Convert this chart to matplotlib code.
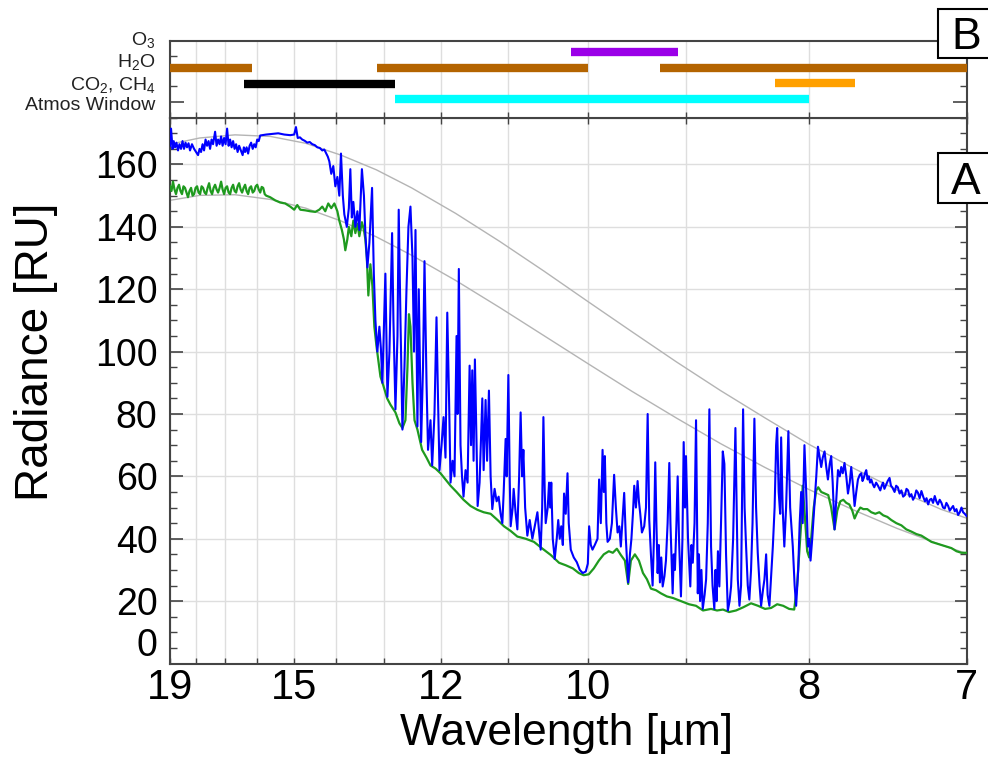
import matplotlib
matplotlib.use('Agg')
import matplotlib.pyplot as plt
import matplotlib.transforms as mtransforms
from matplotlib.patches import Rectangle

plt.rcParams['font.family'] = ['Liberation Sans', 'DejaVu Sans']
plt.rcParams['mathtext.fontset'] = 'custom'
plt.rcParams['mathtext.rm'] = 'Liberation Sans'
plt.rcParams['mathtext.it'] = 'Liberation Sans:italic'
plt.rcParams['mathtext.bf'] = 'Liberation Sans:bold'

# ---------------- data (x in wavenumber cm^-1, radiance in RU) ----------------
tick_wavelengths = [19, 18, 17, 16, 15, 14, 13, 12, 11, 10, 9, 8, 7]
labelled_wavelengths = [19, 15, 12, 10, 8, 7]
y_ticks = [0, 20, 40, 60, 80, 100, 120, 140, 160]

blackbody_nu = [526.3, 560, 600, 640, 680, 720, 760, 800, 850, 900, 950, 1000,
                1050, 1100, 1150, 1200, 1250, 1300, 1350, 1400, 1428.6]
blackbody_warm = [166.5, 168.5, 169.5, 169.0, 166.8, 163.0, 158.3, 152.5, 144.3, 135.3,
                  125.8, 116.0, 106.3, 96.7, 87.5, 78.8, 70.3, 62.7, 55.6, 49.4, 46.6]
blackbody_cool = [148.5, 150.1, 150.3, 148.8, 146.0, 141.9, 136.8, 130.9, 122.8, 114.1,
                  105.1, 96.1, 87.2, 78.7, 70.5, 62.9, 55.8, 49.3, 43.3, 38.0, 35.3]

blue_spectrum = [
    (526.3, 166), (527.5, 171.5), (529.2, 165), (530.5, 167.5), (532.0, 165.5), (533.6, 167),
    (535.4, 164.5), (537.0, 166.5), (538.8, 165), (540.5, 167.5), (542.2, 165), (543.9, 167),
    (545.6, 165.5), (547.3, 166.8), (549.0, 164.5), (551.2, 166.5), (553.6, 165), (555.8, 164),
    (558.1, 163), (559.8, 165), (561.5, 164), (563.2, 166.5), (564.9, 164.5), (566.6, 168),
    (568.3, 166), (570.0, 167.5), (571.7, 165), (573.4, 168), (575.1, 166.5), (577.4, 170.5),
    (579.1, 166), (580.8, 168), (582.5, 166.5), (584.2, 169), (585.9, 166), (587.6, 168.5),
    (589.3, 166.5), (591.0, 171.5), (592.7, 166), (594.4, 168), (596.1, 165.5), (597.8, 167.5),
    (599.5, 165), (601.2, 166.5), (602.9, 164), (604.6, 166), (606.6, 164.5), (608.6, 163),
    (610.0, 165.5), (611.4, 164), (613.1, 165.5), (614.8, 163.5), (616.5, 166), (618.2, 167),
    (620.0, 165), (621.7, 166.5), (623.4, 165.5), (625.1, 168), (626.8, 167.5), (628.5, 169.3),
    (635.3, 169.6), (642.1, 169.8), (648.9, 170), (655.7, 169.6),
    (662.5, 169.4), (667.0, 169.6), (669.0, 172), (671.0, 168.5), (673.5, 168.7), (676.1, 168),
    (678.9, 167.6), (681.8, 167), (684.6, 167.2), (687.5, 166.5), (690.4, 166.2), (693.2, 165.5),
    (696.0, 165.3), (698.8, 164.5), (701.1, 164.8), (703.4, 163.5), (705.1, 162.5), (706.8, 161),
    (709.0, 157), (711.3, 159.5), (713.6, 153), (715.9, 156), (718.1, 150), (720.0, 163.5),
    (722.1, 150), (723.8, 144), (726.6, 140), (728.9, 146), (730.6, 158.5), (732.3, 143),
    (734.0, 148), (736.3, 140), (738.6, 145), (740.8, 139), (743.7, 158.5), (746.0, 150),
    (747.6, 138), (749.9, 127), (752.2, 135), (755.2, 152.5), (757.2, 125), (759.0, 110),
    (761.2, 100), (763.5, 108), (765.2, 101), (766.9, 90), (770.3, 125), (772.6, 85.5),
    (774.9, 100), (777.9, 138), (779.4, 110), (781.7, 81.5), (784.0, 105), (785.4, 145.5),
    (787.4, 110), (789.6, 75), (791.9, 95), (794.2, 120), (796.4, 140), (798.7, 146.5),
    (801.0, 130), (802.7, 100), (804.4, 139), (806.6, 76), (808.1, 120), (810.8, 71),
    (812.9, 95), (814.6, 129), (816.9, 90), (818.6, 68.5), (821.4, 78), (823.3, 63.5),
    (825.9, 80), (828.2, 111), (829.9, 85), (831.6, 62), (833.9, 70), (836.2, 79),
    (838.4, 66), (840.4, 112.5), (842.4, 85), (844.1, 58), (846.4, 65), (848.6, 60),
    (850.9, 105), (852.0, 80), (853.5, 126.5), (855.4, 70), (857.1, 60), (858.8, 53.5),
    (861.1, 62), (863.4, 58), (865.7, 95.5), (867.3, 70), (868.7, 94), (870.2, 65),
    (871.7, 97.5), (873.6, 70), (874.8, 50.5), (877.0, 58), (880.1, 85), (881.6, 62),
    (883.8, 84.5), (885.5, 65), (887.6, 87.5), (889.5, 60), (891.4, 49.5), (894.0, 56),
    (896.3, 52), (898.6, 53.5), (900.8, 48), (902.8, 45), (904.3, 55), (906.5, 72),
    (907.7, 60), (909.6, 92.5), (911.1, 60), (912.2, 44), (914.5, 50), (915.6, 56),
    (917.9, 48), (919.8, 43), (921.8, 60), (923.5, 80.5), (925.2, 60), (926.6, 68.5),
    (928.6, 50), (931.1, 41), (933.8, 46), (936.8, 40), (939.5, 44), (942.5, 48.5),
    (944.5, 42), (946.2, 36.5), (947.9, 50), (949.3, 79), (950.8, 55), (951.9, 45),
    (954.2, 50), (955.7, 58), (957.0, 50), (958.2, 58), (959.9, 40), (962.1, 33.5),
    (964.4, 40), (966.1, 46), (967.8, 40), (969.5, 44), (971.3, 38), (972.7, 54.5),
    (974.6, 48), (976.6, 61), (978.0, 45), (980.3, 36.5), (983.7, 34), (987.1, 32.5),
    (990.5, 30), (993.9, 29), (997.3, 29.5), (999.6, 32), (1001.1, 44), (1003.0, 38),
    (1004.9, 36.5), (1007.5, 38), (1010.6, 40), (1012.4, 59), (1014.3, 45), (1016.3, 68.5),
    (1017.7, 55), (1018.9, 66.5), (1020.6, 45), (1022.0, 39), (1024.6, 40), (1026.9, 45),
    (1029.4, 60.5), (1031.4, 50), (1033.3, 42), (1035.3, 44), (1037.0, 37.5), (1038.7, 45),
    (1040.8, 54.7), (1042.7, 40), (1045.3, 26), (1047.3, 35), (1049.0, 40), (1050.7, 48),
    (1052.2, 57), (1054.1, 50), (1056.0, 58.5), (1057.5, 52), (1059.0, 48), (1060.9, 42),
    (1063.5, 44), (1065.5, 50), (1067.4, 80), (1069.2, 46), (1071.1, 35), (1073.0, 25),
    (1074.5, 40), (1076.0, 64.5), (1077.3, 45), (1078.7, 29), (1080.0, 38), (1081.3, 26),
    (1082.8, 34), (1084.4, 24.7), (1086.4, 28), (1088.1, 33), (1090.0, 45), (1091.9, 64.3),
    (1093.2, 45), (1095.7, 22.5), (1097.0, 35), (1098.3, 30), (1100.0, 45), (1101.4, 60),
    (1102.9, 40), (1105.1, 21.5), (1106.8, 40), (1108.2, 71), (1109.7, 50), (1110.8, 66.5),
    (1113.1, 40), (1115.7, 24.7), (1117.0, 38), (1118.5, 32.3), (1120.5, 45), (1122.2, 78),
    (1124.2, 22.5), (1125.5, 35), (1126.8, 20), (1128.3, 30), (1129.8, 17.5), (1131.9, 22),
    (1133.6, 27), (1135.5, 45), (1137.3, 81.5), (1139.2, 37.5), (1140.9, 25), (1142.9, 17.5),
    (1144.2, 30), (1145.5, 20), (1147.0, 36), (1148.6, 24.7), (1150.5, 45), (1152.5, 68),
    (1154.3, 64), (1156.2, 35), (1158.2, 17), (1160.2, 20), (1161.9, 24.7), (1164.2, 40),
    (1166.8, 75.5), (1168.2, 50), (1169.5, 27), (1171.4, 18.5), (1173.2, 25), (1175.5, 81.5),
    (1177.2, 50), (1178.9, 37.5), (1180.8, 25), (1182.6, 20.5), (1184.5, 30), (1186.2, 45),
    (1188.3, 78.5), (1190.2, 50), (1192.1, 35.5), (1194.2, 25), (1195.9, 18.5), (1198.2, 24),
    (1199.7, 27), (1201.6, 35), (1203.3, 22), (1205.3, 18.5), (1207.2, 28), (1209.2, 37.5),
    (1211.2, 50), (1212.9, 70), (1214.1, 75.5), (1215.8, 55), (1217.5, 48), (1218.6, 72.5),
    (1220.3, 50), (1222.2, 37.5), (1224.2, 50), (1226.8, 74.5), (1228.8, 50), (1231.8, 37.5),
    (1233.9, 25), (1235.6, 18.5), (1237.9, 30), (1239.6, 45), (1241.3, 55), (1243.0, 45),
    (1245.0, 70), (1247.0, 55), (1248.9, 37.5), (1250.4, 40), (1251.9, 33), (1253.8, 40),
    (1256.4, 51.5), (1258.4, 60), (1260.3, 69.5), (1262.3, 66), (1264.0, 63), (1265.7, 66),
    (1267.8, 68), (1269.7, 63), (1271.6, 59), (1273.6, 64), (1275.3, 66.5), (1277.0, 58),
    (1279.1, 43), (1281.0, 52), (1283.0, 62), (1285.0, 60), (1286.7, 63), (1288.4, 61),
    (1290.4, 64.3), (1292.4, 60), (1294.3, 54.5), (1296.3, 58), (1298.0, 63), (1299.7, 58),
    (1301.8, 50.5), (1303.7, 55), (1305.6, 59), (1307.7, 60.5), (1309.4, 61), (1310.8, 58.5),
    (1312.2, 59.5), (1313.6, 61), (1315.0, 62), (1316.5, 59), (1317.9, 60), (1319.3, 58),
    (1320.7, 59), (1322.4, 57.5), (1324.1, 56.5), (1326.2, 58), (1328.3, 57), (1330.9, 55.5),
    (1332.5, 57), (1334.0, 58), (1335.6, 56), (1337.1, 57), (1339.3, 58.5), (1341.4, 59.5),
    (1343.0, 57), (1344.5, 56.5), (1347.1, 55), (1348.9, 57), (1350.8, 56.5), (1352.8, 54.5),
    (1354.8, 55.5), (1356.8, 53.5), (1358.8, 54), (1360.6, 56), (1362.4, 55.5), (1364.2, 53.5),
    (1366.1, 54.3), (1368.0, 52.5), (1369.9, 53.5), (1371.7, 55.5), (1373.5, 54.8), (1375.5, 53),
    (1377.5, 55.3), (1379.5, 53.5), (1381.5, 52), (1383.3, 53), (1385.1, 51), (1387.0, 52.5),
    (1388.8, 52.8), (1390.7, 51.5), (1392.6, 53.7), (1394.4, 52), (1396.2, 51), (1398.2, 52.5),
    (1400.2, 51.5), (1402.0, 50), (1403.9, 49.7), (1405.8, 51.5), (1407.8, 50.5), (1409.6, 49),
    (1411.5, 49.8), (1413.4, 50.5), (1415.3, 48.8), (1417.2, 49.5), (1419.1, 47.6), (1421.0, 48.5),
    (1422.9, 50), (1424.7, 48.5), (1426.6, 48), (1428.6, 47.3),
]

green_spectrum = [
    (526.3, 153), (528.0, 151.5), (529.7, 154.5), (531.4, 152), (533.1, 150.5), (534.8, 152.5),
    (536.5, 153.5), (538.2, 151.5), (539.9, 150.5), (541.6, 153), (543.3, 152.5), (545.0, 151),
    (546.7, 149.5), (548.4, 151.5), (550.2, 152.5), (551.9, 150), (553.6, 150.5), (555.3, 152.5),
    (557.0, 153), (558.7, 151), (560.4, 150.5), (562.1, 153), (563.8, 152.5), (565.5, 151),
    (567.2, 150.5), (568.9, 152.5), (570.6, 154), (572.3, 151.5), (574.0, 150.5), (575.7, 152.5),
    (577.4, 153.5), (579.1, 152), (580.8, 151), (582.5, 152.5), (584.2, 154.5), (585.9, 152),
    (587.6, 150.5), (589.3, 152.5), (591.0, 153), (592.7, 151), (594.4, 150.5), (596.1, 152.5),
    (597.8, 153.5), (599.5, 151.5), (601.2, 151), (602.9, 153), (604.6, 154), (606.3, 152),
    (608.0, 151), (609.7, 152.5), (611.4, 153.5), (613.1, 151.5), (614.8, 150.5), (616.5, 152.5),
    (618.2, 153), (620.0, 151), (621.7, 151.5), (623.4, 153), (625.1, 153.5), (626.8, 152),
    (628.5, 151), (630.2, 152.8), (631.9, 152.5), (633.6, 150.5), (635.3, 150), (639.8, 149.5),
    (645.5, 148.5), (651.2, 147.8), (656.8, 147.5), (662.5, 146.5), (667.0, 145.5), (670.5, 147),
    (673.9, 145.5), (679.5, 145.3), (685.2, 145), (690.9, 144.8), (695.4, 145.5), (698.8, 146.5),
    (702.2, 145), (705.6, 147.5), (709.0, 146), (712.5, 147.5), (715.9, 145), (718.1, 142),
    (721.0, 139), (723.3, 136), (724.9, 132.5), (727.2, 136), (728.9, 140), (731.7, 137),
    (734.0, 142), (736.3, 138), (738.6, 141), (740.8, 137), (743.7, 141.5), (746.0, 139),
    (747.6, 136), (749.3, 130), (751.0, 118), (753.3, 128), (755.6, 121), (757.8, 108),
    (760.1, 102), (762.4, 97), (764.7, 92), (768.1, 89), (772.3, 85), (776.0, 83),
    (781.7, 80.5), (786.2, 77), (789.6, 75.5), (793.0, 78), (795.3, 95), (797.0, 112),
    (798.7, 108), (801.0, 90), (803.3, 78), (806.6, 75), (811.9, 68.5), (816.9, 66),
    (821.4, 63.5), (827.1, 62.5), (832.7, 61), (838.4, 59), (844.1, 57), (850.9, 55),
    (858.8, 52.5), (866.8, 50.5), (874.4, 49.3), (881.6, 48.5), (889.5, 48), (897.4, 46),
    (904.6, 44), (912.2, 42.5), (919.8, 40.7), (929.2, 40), (938.6, 39), (947.4, 37),
    (957.6, 34.8), (967.0, 32.3), (974.6, 31.5), (982.6, 30.5), (989.4, 29), (995.0, 28.3),
    (1000.7, 28.6), (1006.4, 30.5), (1012.1, 33), (1017.7, 35), (1023.4, 36), (1027.9, 35.5),
    (1032.5, 36.8), (1037.0, 34.8), (1041.6, 33), (1045.3, 25.5), (1048.4, 33), (1052.9, 35),
    (1057.5, 33), (1062.1, 29), (1066.6, 27), (1071.1, 24), (1076.8, 23.5), (1082.4, 22.5),
    (1089.2, 21.5), (1096.1, 21), (1105.1, 20), (1114.2, 19), (1122.2, 18.5), (1130.1, 17),
    (1139.2, 17.5), (1146.0, 17), (1152.8, 17.3), (1159.6, 16.5), (1167.5, 17), (1175.5, 18),
    (1184.5, 19.3), (1192.4, 18.5), (1200.4, 17.5), (1207.2, 17.8), (1214.1, 19), (1220.9, 18.5),
    (1227.7, 17.5), (1233.4, 17.3), (1236.7, 25), (1239.0, 35), (1241.3, 45), (1243.0, 57),
    (1245.3, 48), (1248.1, 36), (1250.4, 34), (1252.6, 40), (1255.5, 50), (1258.4, 55.5),
    (1260.6, 56.5), (1264.0, 55), (1268.0, 54.5), (1272.0, 54), (1275.3, 50), (1279.1, 43),
    (1282.2, 49), (1285.6, 52), (1289.0, 52.5), (1292.4, 51.5), (1295.8, 51), (1299.2, 49),
    (1301.8, 46.5), (1304.9, 48.5), (1308.3, 50), (1311.7, 49.5), (1316.2, 49.5), (1320.7, 48.5),
    (1325.3, 48), (1329.8, 48.5), (1334.3, 47.5), (1338.9, 47), (1343.4, 46), (1349.1, 45),
    (1354.8, 44.3), (1360.4, 43), (1366.1, 42.3), (1371.8, 41.5), (1377.5, 41), (1383.2, 40),
    (1388.8, 39), (1394.5, 38.5), (1400.2, 38), (1405.8, 37.5), (1411.5, 37), (1417.2, 36),
    (1422.9, 35.5), (1428.6, 35.5),
]

# absorber / window bands (panel B)
band_labels = ['O$_3$', 'H$_2$O', 'CO$_2$, CH$_4$', 'Atmos Window']
band_label_rows = [5.0, 3.6, 2.1, 0.76]
band_rows = [4.25, 3.22, 3.22, 3.22, 2.18, 2.22, 1.19]
band_start = [981, 526.3, 761, 1081, 610, 1212, 781]
band_end = [1102, 619, 1000, 1428.6, 781, 1302, 1250]
band_colors = ['#9b00e8', '#b46400', '#b46400', '#b46400', '#000000', '#ffa000', '#00ffff']

# ---------------- figure ----------------
W, H = 988, 757
fig = plt.figure(figsize=(W / 100, H / 100), dpi=100)


def fx(px):
    return px / W


def fy(py):
    return 1 - py / H


L, R = 170, 966.5
axA = fig.add_axes([fx(L), fy(663.5), (R - L) / W, (663.5 - 117.7) / H])
axB = fig.add_axes([fx(L), fy(117.7), (R - L) / W, (117.7 - 40.5) / H])

xmin, xmax = 1e4 / 19, 1e4 / 7
tick_pos = [1e4 / w for w in tick_wavelengths]
tick_lab = [str(w) if w in labelled_wavelengths else '' for w in tick_wavelengths]

spine_col = '#444444'
grid_col = '#dedede'

# ---- panel A ----
axA.plot(blackbody_nu, blackbody_warm, color='#b4b4b4', lw=1.0, zorder=2)
axA.plot(blackbody_nu, blackbody_cool, color='#b4b4b4', lw=1.0, zorder=2)
g_nu, g_r = zip(*green_spectrum)
b_nu, b_r = zip(*blue_spectrum)
axA.plot(g_nu, g_r, color='#1f9a1f', lw=1.6, zorder=3)
axA.plot(b_nu, b_r, color='#0000ff', lw=1.5, zorder=4)

axA.set_xlim(xmin, xmax)
axA.set_ylim(0, 175)
axA.set_xticks(tick_pos)
axA.set_xticklabels(tick_lab)
axA.set_yticks(y_ticks)
axA.set_yticks(list(range(0, 176, 5)), minor=True)
axA.grid(True, which='major', color=grid_col, lw=1.0)
axA.set_axisbelow(True)
axA.tick_params(axis='both', which='both', direction='in', top=True, right=True, color=spine_col)
axA.tick_params(axis='y', which='major', length=9, width=1.2, labelsize=27, pad=9)
axA.tick_params(axis='y', which='minor', length=5, width=1.0)
axA.tick_params(axis='x', which='major', length=4, width=1.0, labelsize=30, pad=3)
axA.yaxis.get_major_ticks()[0].label1.set_verticalalignment('bottom')
for sp in axA.spines.values():
    sp.set_color(spine_col)
    sp.set_linewidth(1.5)

# ---- panel B ----
for row, x0, x1, c in zip(band_rows, band_start, band_end, band_colors):
    axB.plot([x0, x1], [row, row], color=c, lw=6, solid_capstyle='butt', zorder=3)
axB.set_xlim(xmin, xmax)
axB.set_ylim(0, 5)
axB.set_xticks(tick_pos)
axB.set_xticklabels([])
axB.grid(True, axis='x', color=grid_col, lw=1.0)
axB.set_axisbelow(True)
axB.set_yticks([1.04, 5.0])
axB.set_yticklabels([])
axB.set_yticks([2.05, 4.0], minor=True)
axB.tick_params(axis='both', which='both', direction='in', right=True, color=spine_col)
axB.tick_params(axis='y', which='major', length=10, width=1.2)
axB.tick_params(axis='y', which='minor', length=5, width=1.0)
axB.tick_params(axis='x', which='major', length=4, width=1.0)
for sp in axB.spines.values():
    sp.set_color(spine_col)
    sp.set_linewidth(1.5)
trB = mtransforms.blended_transform_factory(axB.transAxes, axB.transData)
for lab, row in zip(band_labels, band_label_rows):
    axB.text(-0.018, row, lab, transform=trB, ha='right', va='center', fontsize=14,
             color='#222222', clip_on=False)

# ---- axis titles ----
fig.text(fx(36), fy(352), 'Radiance [RU]', rotation=90, ha='center', va='center', fontsize=33)
fig.text(fx(566), fy(733), 'Wavelength [µm]', ha='center', va='center', fontsize=32)

# ---- panel letters ----
for letter, top, bot in [('B', 9.3, 58.3), ('A', 153.3, 202.7)]:
    fig.patches.append(Rectangle((fx(938), fy(bot)), fx(60), (bot - top) / H,
                                 transform=fig.transFigure, facecolor='white',
                                 edgecolor='black', lw=1.5, zorder=10))
    fig.text(fx(966), fy(bot - 9), letter, ha='center', va='baseline', fontsize=32, zorder=11)

fig.savefig('out.png', dpi=100)
